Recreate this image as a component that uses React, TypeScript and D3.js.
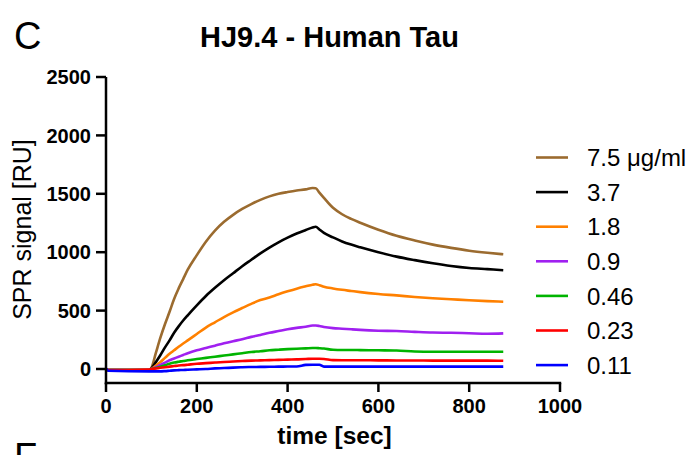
import React from "react";
import * as d3 from "d3";

const times = [0, 5, 95, 100, 110, 120, 130, 140, 150, 160, 170, 180, 200, 220, 240, 260, 280, 300, 320, 340, 360, 380, 400, 420, 440, 455, 462, 470, 480, 500, 520, 540, 560, 600, 640, 680, 720, 760, 800, 840, 875];

const brown = [0, -10, -8, 10, 140, 270, 385, 490, 600, 690, 770, 850, 975, 1090, 1185, 1260, 1320, 1370, 1412, 1448, 1478, 1500, 1515, 1528, 1538, 1550, 1548, 1510, 1465, 1380, 1325, 1285, 1252, 1192, 1140, 1100, 1065, 1037, 1013, 995, 982];
const black = [0, -10, -8, 5, 60, 120, 185, 245, 310, 365, 415, 460, 545, 625, 695, 760, 820, 880, 935, 990, 1040, 1085, 1125, 1160, 1190, 1212, 1218, 1195, 1165, 1127, 1092, 1065, 1042, 1000, 962, 932, 905, 882, 865, 855, 846];
const orange = [0, -10, -8, 0, 30, 60, 95, 130, 160, 190, 218, 245, 300, 355, 400, 445, 485, 522, 558, 590, 612, 640, 665, 688, 708, 722, 725, 718, 705, 690, 678, 668, 658, 642, 630, 617, 606, 597, 588, 581, 576];
const purple = [0, -10, -8, 0, 15, 35, 55, 75, 90, 105, 120, 135, 160, 180, 200, 220, 238, 255, 275, 292, 310, 325, 340, 352, 362, 372, 372, 368, 360, 350, 345, 340, 335, 328, 325, 318, 312, 310, 306, 302, 305];
const green = [0, -10, -8, 0, 8, 20, 32, 45, 55, 62, 68, 75, 85, 95, 105, 115, 125, 135, 145, 152, 160, 165, 170, 174, 177, 180, 180, 178, 175, 165, 163, 163, 162, 160, 158, 150, 148, 148, 148, 148, 148];
const red = [0, -10, -5, 0, 5, 10, 15, 20, 25, 30, 33, 37, 45, 50, 55, 60, 64, 68, 72, 74, 76, 78, 80, 82, 85, 88, 88, 88, 86, 76, 75, 75, 75, 74, 73, 73, 72, 72, 72, 72, 70];
const blue = [5, -15, -20, -20, -20, -20, -18, -15, -12, -10, -8, -6, -3, 0, 5, 8, 12, 15, 17, 18, 19, 20, 21, 22, 35, 37, 37, 36, 20, 20, 20, 20, 20, 20, 20, 20, 20, 20, 20, 20, 20];

const seriesLabels = ["7.5 μg/ml", "3.7", "1.8", "0.9", "0.46", "0.23", "0.11"];
const seriesColors = ["#9b6b2f", "#000000", "#ff8000", "#a020f0", "#00b400", "#ff0000", "#0000ff"];
const seriesValues = [brown, black, orange, purple, green, red, blue];

const xTicks = [0, 200, 400, 600, 800, 1000];
const yTicks = [0, 500, 1000, 1500, 2000, 2500];

export default function App() {
  const x = d3.scaleLinear().domain([0, 1000]).range([106, 560]);
  const y = d3.scaleLinear().domain([0, 2500]).range([369, 77]);
  const axisY = 383;
  const line = d3
    .line<number>()
    .x((_, i) => x(times[i]))
    .y((d) => y(d))
    .curve(d3.curveMonotoneX);

  const tickFont = "'Liberation Sans', Arial, sans-serif";
  return (
    <svg width={691} height={455} style={{ position: "absolute", left: 0, top: 0, background: "#fff" }}>
      <rect width={691} height={455} fill="#fff" />
      <text x={14} y={49} fontFamily="'Liberation Sans Narrow', 'Liberation Sans', sans-serif" fontSize={38} fill="#000">C</text>
      <text x={14} y={470} fontFamily="'Liberation Sans Narrow', 'Liberation Sans', sans-serif" fontSize={38} fill="#000">F</text>
      <text x={329.5} y={47} textAnchor="middle" fontFamily={tickFont} fontWeight="bold" fontSize={29} fill="#000">HJ9.4 - Human Tau</text>

      {/* series */}
      {seriesValues.map((vals, i) => (
        <path key={i} d={line(vals) || ""} fill="none" stroke={seriesColors[i]} strokeWidth={2.6} strokeLinejoin="round" />
      ))}

      {/* y axis */}
      <line x1={106} x2={106} y1={y(2500)} y2={axisY + 1.2} stroke="#000" strokeWidth={2.5} />
      {yTicks.map((t) => (
        <g key={t}>
          <line x1={96} x2={106} y1={y(t)} y2={y(t)} stroke="#000" strokeWidth={2.5} />
          <text x={91} y={y(t)} dy="0.36em" textAnchor="end" fontFamily={tickFont} fontWeight="bold" fontSize={20} fill="#000">{t}</text>
        </g>
      ))}
      {/* x axis */}
      <line x1={104.8} x2={x(1000) + 1.2} y1={axisY} y2={axisY} stroke="#000" strokeWidth={2.5} />
      {xTicks.map((t) => (
        <g key={t}>
          <line x1={x(t)} x2={x(t)} y1={axisY} y2={axisY + 9} stroke="#000" strokeWidth={2.5} />
          <text x={x(t)} y={413} textAnchor="middle" fontFamily={tickFont} fontWeight="bold" fontSize={20} fill="#000">{t}</text>
        </g>
      ))}
      <text x={334.5} y={444} textAnchor="middle" fontFamily={tickFont} fontWeight="bold" fontSize={24.5} fill="#000">time [sec]</text>
      <text transform="translate(31,229.5) rotate(-90)" textAnchor="middle" fontFamily={tickFont} fontSize={25} fill="#000">SPR signal [RU]</text>

      {/* legend */}
      {seriesLabels.map((lab, i) => {
        const ly = 157.5 + i * 34.6;
        return (
          <g key={lab}>
            <line x1={536} x2={568} y1={ly} y2={ly} stroke={seriesColors[i]} strokeWidth={2.6} />
            <text x={587} y={ly} dy="0.36em" fontFamily={tickFont} fontSize={24} fill="#000">{lab}</text>
          </g>
        );
      })}
    </svg>
  );
}
